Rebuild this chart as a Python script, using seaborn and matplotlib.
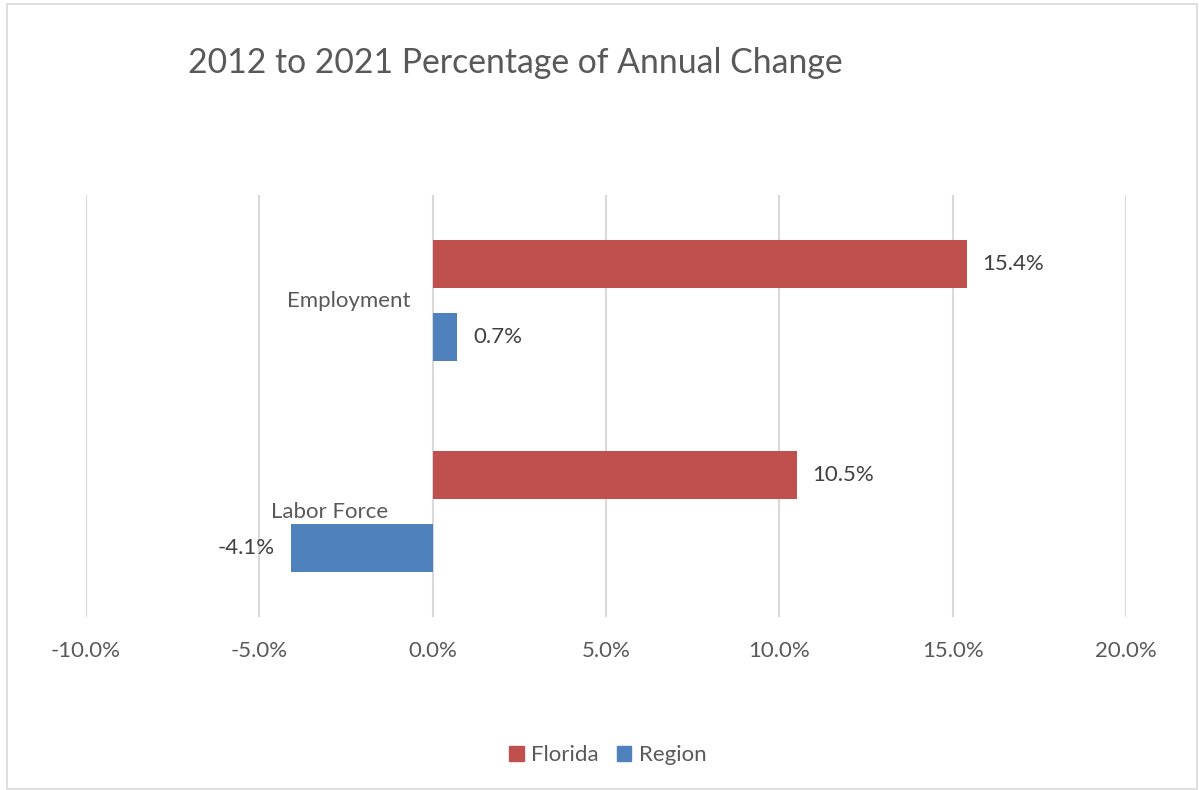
import matplotlib
matplotlib.use("Agg")
import matplotlib.pyplot as plt
import matplotlib.patches as mpatches
from matplotlib.ticker import FuncFormatter, MultipleLocator
import seaborn as sns
import pandas as pd

categories = ["Employment", "Labor Force"]
series_names = ["Florida", "Region"]
florida_values = [15.4, 10.5]
region_values = [0.7, -4.1]
title_text = "2012 to 2021 Percentage of Annual Change"

colors = {"Florida": "#C0504D", "Region": "#4F81BD"}
text_color = "#595959"
grid_color = "#D9D9D9"

df = pd.DataFrame({
    "Category": categories * 2,
    "Series": [series_names[0]] * len(categories) + [series_names[1]] * len(categories),
    "Value": florida_values + region_values,
})

sns.set_theme(style="white")
FONT = ["Lato", "DejaVu Sans"]
plt.rcParams["font.family"] = FONT

W, H = 1199, 790
fig = plt.figure(figsize=(W / 100, H / 100), dpi=100)
ax = fig.add_axes([86 / W, 1 - 617 / H, (1126 - 86) / W, (617 - 195) / H])

sns.barplot(data=df, y="Category", x="Value", hue="Series", order=categories,
            hue_order=series_names, palette=colors, orient="h", width=0.69,
            gap=0.34, ax=ax, legend=False, saturation=1, linewidth=0)

ax.set_xlim(-10, 20)
ax.set_ylim(1.5, -0.5)
ax.xaxis.set_major_locator(MultipleLocator(5))
ax.xaxis.set_major_formatter(FuncFormatter(lambda v, p: f"{v:.1f}%"))
ax.grid(axis="x", color=grid_color, linewidth=1.5)
ax.grid(axis="y", visible=False)
ax.set_axisbelow(True)
for s in ax.spines.values():
    s.set_visible(False)
ax.set_xlabel("")
ax.set_ylabel("")
ax.set_yticks([])
ax.tick_params(axis="x", length=0, pad=17, labelsize=16, labelcolor=text_color)

for cont in ax.containers:
    ax.bar_label(cont, labels=[f"{v:.1f}%" for v in cont.datavalues],
                 padding=11.5, fontsize=16, color="#404040")

# category labels next to the zero axis
label_offsets = [-16, -32]
for i, cat in enumerate(categories):
    ax.annotate(cat, xy=(0, i), xytext=(label_offsets[i], 0), textcoords="offset points",
                ha="right", va="center", fontsize=16, color=text_color)

fig.text(188 / W, 1 - 63 / H, title_text, ha="left", va="center", fontsize=24.3,
         color=text_color)

handles = [mpatches.Patch(color=colors[s], label=s) for s in series_names]
fig.legend(handles=handles, loc="center", bbox_to_anchor=(608 / W, 1 - 755 / H),
           ncol=2, frameon=False, fontsize=16, labelcolor=text_color,
           handlelength=0.65, handleheight=0.65, handletextpad=0.35, columnspacing=0.8)

fig.add_artist(mpatches.Rectangle((7 / W, 1 / H), (1197 - 7) / W, (786 - 1) / H,
                                  transform=fig.transFigure, fill=False,
                                  edgecolor=grid_color, linewidth=1.2))

fig.savefig("out.png", dpi=100, facecolor="white")
